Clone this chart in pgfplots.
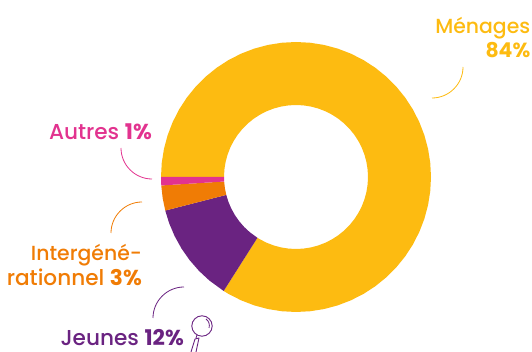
\documentclass[border=0pt]{standalone}
\usepackage{pgfplots}
\usepgfplotslibrary{polar}
\pgfplotsset{compat=1.18}
\usepackage{fontspec}
\setmainfont{Poppins}[UprightFont=* Medium, BoldFont=* Bold]
\definecolor{menages}{HTML}{FDBB11}
\definecolor{jeunes}{HTML}{6A2381}
\definecolor{inter}{HTML}{F07C05}
\definecolor{autres}{HTML}{E2338F}
\newcommand{\lab}{\fontsize{20.4}{24}\selectfont}
\newcommand{\labw}{\fontsize{21.6}{24}\selectfont}
\begin{document}
\begin{tikzpicture}
\begin{axis}[
  hide axis, scale only axis, width=532pt, height=352pt,
  xmin=-296, xmax=236, ymin=-175, ymax=177, clip=false,
  every axis plot/.append style={draw=none, no markers},
]
% Ring sectors: angle (degrees), radius; each share of 100 % spans 3.6 degrees per point
% Ménages 84 %
\addplot[fill=menages, data cs=polar] coordinates {
 (237.6,135)(240,135)(246,135)(252,135)(258,135)(264,135)(270,135)(276,135)(282,135)(288,135)(294,135)
 (300,135)(306,135)(312,135)(318,135)(324,135)(330,135)(336,135)(342,135)(348,135)(354,135)
 (360,135)(366,135)(372,135)(378,135)(384,135)(390,135)(396,135)(402,135)(408,135)(414,135)
 (420,135)(426,135)(432,135)(438,135)(444,135)(450,135)(456,135)(462,135)(468,135)(474,135)
 (480,135)(486,135)(492,135)(498,135)(504,135)(510,135)(516,135)(522,135)(528,135)(534,135)(540,135)
 (540,72)(534,72)(528,72)(522,72)(516,72)(510,72)(504,72)(498,72)(492,72)(486,72)(480,72)
 (474,72)(468,72)(462,72)(456,72)(450,72)(444,72)(438,72)(432,72)(426,72)(420,72)
 (414,72)(408,72)(402,72)(396,72)(390,72)(384,72)(378,72)(372,72)(366,72)(360,72)
 (354,72)(348,72)(342,72)(336,72)(330,72)(324,72)(318,72)(312,72)(306,72)(300,72)
 (294,72)(288,72)(282,72)(276,72)(270,72)(264,72)(258,72)(252,72)(246,72)(240,72)(237.6,72)
} -- cycle;
% Jeunes 12 %
\addplot[fill=jeunes, data cs=polar] coordinates {
 (194.4,135)(200,135)(206,135)(212,135)(218,135)(224,135)(230,135)(237.6,135)
 (237.6,72)(230,72)(224,72)(218,72)(212,72)(206,72)(200,72)(194.4,72)
} -- cycle;
% Intergénérationnel 3 %
\addplot[fill=inter, data cs=polar] coordinates {
 (183.6,135)(189,135)(194.4,135)(194.4,72)(189,72)(183.6,72)
} -- cycle;
% Autres 1 %
\addplot[fill=autres, data cs=polar] coordinates {
 (180,135)(183.6,135)(183.6,72)(180,72)
} -- cycle;

% Labels
\node[anchor=base east, text=menages, font=\lab, inner sep=0pt] at (axis cs:234.5,143) {Ménages};
\node[anchor=base east, text=menages, font=\lab\bfseries, inner sep=0pt] at (axis cs:234.5,119) {84\%};
\node[anchor=base east, text=autres, font=\labw, inner sep=0pt] at (axis cs:-144,37.5) {Autres \textbf{1\%}};
\node[anchor=base east, text=inter, font=\lab, inner sep=0pt] at (axis cs:-154,-83.5) {Intergéné-};
\node[anchor=base east, text=inter, font=\labw, inner sep=0pt] at (axis cs:-154,-108.5) {rationnel \textbf{3\%}};
\node[anchor=base east, text=jeunes, font=\labw, inner sep=0pt] at (axis cs:-112,-168.5) {Jeunes \textbf{12\%}};

% Curved leaders
\draw[menages, line width=0.8pt] (axis cs:167,110) .. controls (axis cs:167,93) and (axis cs:153,79) .. (axis cs:136,79);
\draw[autres, line width=0.8pt] (axis cs:-175,29) .. controls (axis cs:-175,12) and (axis cs:-161,-2) .. (axis cs:-144,-2);
\draw[inter, line width=0.8pt] (axis cs:-154,-25) .. controls (axis cs:-171,-25) and (axis cs:-185,-39) .. (axis cs:-185,-56);
\draw[jeunes, line width=0.8pt] (axis cs:-112,-110) .. controls (axis cs:-129,-110) and (axis cs:-143,-124) .. (axis cs:-143,-141);

% Magnifying glass
\draw[jeunes, line width=0.9pt] (axis cs:-94,-149) circle[radius=10.2pt];
\draw[jeunes, line width=0.8pt] (axis cs:-90,-142) .. controls (axis cs:-87,-144) and (axis cs:-86,-148) .. (axis cs:-87,-151);
\draw[jeunes, line width=0.9pt] (axis cs:-99,-158) -- (axis cs:-100,-161);
\draw[jeunes, line width=0.9pt, line join=round] (axis cs:-105,-175) -- (axis cs:-101,-162) -- (axis cs:-97,-161) -- (axis cs:-100,-175);
\end{axis}
\pgfresetboundingbox
\useasboundingbox (current axis.south west) rectangle (current axis.north east);
\end{tikzpicture}
\end{document}
